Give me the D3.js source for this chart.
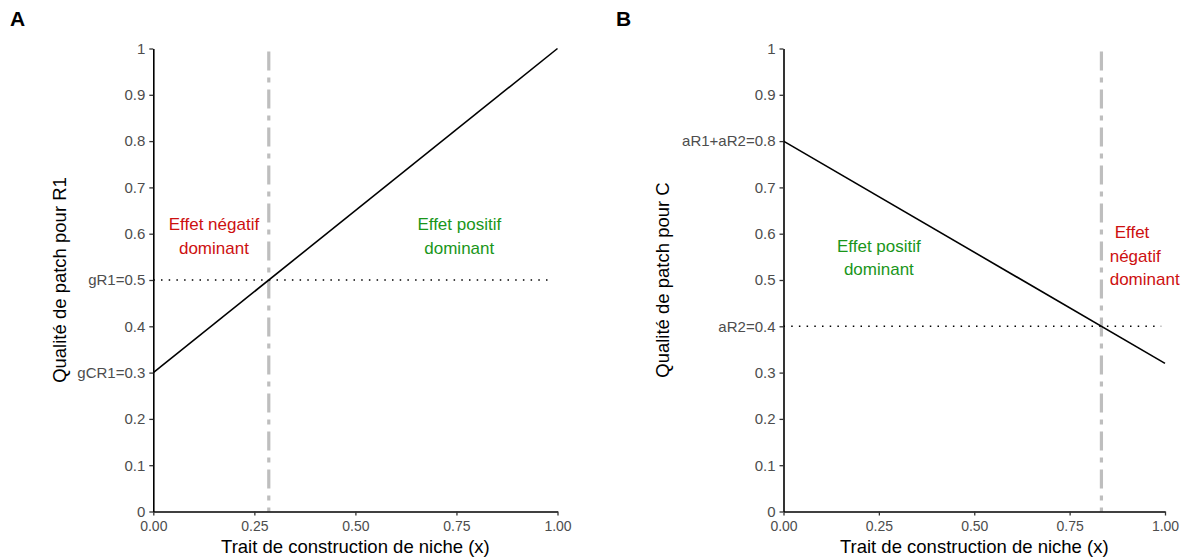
<!DOCTYPE html>
<html>
<head>
<meta charset="utf-8">
<script src="https://cdn.jsdelivr.net/npm/d3@7"></script>
<style>
  body { margin: 0; background: #ffffff; }
  svg text { font-family: "Liberation Sans", Arial, sans-serif; }
</style>
</head>
<body>
<svg id="mySvg" width="1189" height="559"></svg>
<script>
// values
var xTicks = [0, 0.25, 0.5, 0.75, 1];
var xTickLabels = ["0.00", "0.25", "0.50", "0.75", "1.00"];
var yTicks = [0, 0.1, 0.2, 0.3, 0.4, 0.5, 0.6, 0.7, 0.8, 0.9, 1];

// panel A
var lineAx = [0, 1];
var lineAy = [0.3, 1];
var hLineA = 0.5;
var vLineA = 2 / 7;
var yLabelsA = {0.3: "gCR1=0.3", 0.5: "gR1=0.5"};

// panel B
var lineBx = [0, 1];
var lineBy = [0.8, 0.32];
var hLineB = 0.4;
var vLineB = 5 / 6;
var yLabelsB = {0.8: "aR1+aR2=0.8", 0.4: "aR2=0.4"};

var svgWidth = 1189;
var svgHeight = 559;
var red = "#cd1010";
var green = "#1a961a";

var svg = d3.select("#mySvg");

function drawPanel(opt) {
    var xScale = d3.scaleLinear().domain([0, 1]).range([opt.left, opt.right]);
    var yScale = d3.scaleLinear().domain([0, 1]).range([511.5, 48.5]);

    var g = svg.append("g");

    // dash-dot vertical line
    g.append("line")
        .attr("x1", xScale(opt.vLine)).attr("x2", xScale(opt.vLine))
        .attr("y1", yScale(1) + 3).attr("y2", yScale(0))
        .attr("stroke", "#bebebe")
        .attr("stroke-width", 3.2)
        .attr("stroke-dasharray", "19,7,5,7");

    // dotted horizontal line
    g.append("line")
        .attr("x1", xScale(0)).attr("x2", xScale(0.99))
        .attr("y1", yScale(opt.hLine)).attr("y2", yScale(opt.hLine))
        .attr("stroke", "#000")
        .attr("stroke-width", 1.5)
        .attr("stroke-dasharray", "1.5,6.2");

    // main line
    var line = d3.line()
        .x(d => xScale(d[0]))
        .y(d => yScale(d[1]));
    g.append("path")
        .datum(d3.zip(opt.lx, opt.ly))
        .attr("d", line)
        .attr("fill", "none")
        .attr("stroke", "#000")
        .attr("stroke-width", 1.6);

    // axes
    var x_axis = d3.axisBottom(xScale)
        .tickValues(xTicks)
        .tickFormat((d, i) => xTickLabels[i])
        .tickSize(4)
        .tickSizeOuter(0);
    var y_axis = d3.axisLeft(yScale)
        .tickValues(yTicks)
        .tickFormat(d => opt.yLabels[d] || d3.format("")(d))
        .tickSize(4)
        .tickSizeOuter(0);

    var gx = g.append("g")
        .attr("transform", "translate(0," + yScale(0) + ")")
        .call(x_axis);
    var gy = g.append("g")
        .attr("transform", "translate(" + xScale(0) + ",0)")
        .call(y_axis);

    [gx, gy].forEach(function(a) {
        a.attr("font-family", "Liberation Sans, Arial, sans-serif");
        a.select(".domain").attr("stroke", "#000").attr("stroke-width", 1.6);
        a.selectAll(".tick line").attr("stroke", "#333").attr("stroke-width", 1.3);
        a.selectAll(".tick text").attr("fill", "#4d4d4d");
    });
    gx.attr("font-size", 14);
    gy.attr("font-size", 15);
    gx.selectAll(".tick text").attr("y", 10).attr("dy", "0.71em");
    gy.selectAll(".tick text").attr("x", -8);

    // axis titles
    g.append("text")
        .attr("x", (opt.left + opt.right) / 2)
        .attr("y", 553)
        .attr("text-anchor", "middle")
        .attr("font-size", 18.5)
        .attr("fill", "#000")
        .text("Trait de construction de niche (x)");

    g.append("text")
        .attr("transform", "translate(" + opt.yTitleX + "," + (yScale(0.5)) + ") rotate(-90)")
        .attr("text-anchor", "middle")
        .attr("font-size", 18.5)
        .attr("fill", "#000")
        .text(opt.yTitle);

    // panel letter
    g.append("text")
        .attr("x", opt.letterX)
        .attr("y", 26)
        .attr("font-size", 21)
        .attr("font-weight", "bold")
        .attr("fill", "#000")
        .text(opt.letter);

    // annotations
    opt.notes.forEach(function(n) {
        var t = g.append("text")
            .attr("text-anchor", n.anchor || "middle")
            .attr("font-size", 17)
            .attr("fill", n.color);
        n.lines.forEach(function(s, i) {
            t.append("tspan")
                .attr("x", xScale(n.x) + (n.dx ? n.dx[i] : 0))
                .attr("y", yScale(n.y) + i * n.step)
                .text(s);
        });
    });
}

drawPanel({
    left: 153.3, right: 557.5,
    lx: lineAx, ly: lineAy,
    hLine: hLineA, vLine: vLineA,
    yLabels: yLabelsA,
    yTitle: "Qualité de patch pour R1",
    yTitleX: 66,
    letter: "A", letterX: 10,
    notes: [
        {x: 0.15, y: 0.608, step: 24, lines: ["Effet négatif", "dominant"], color: red},
        {x: 0.757, y: 0.608, step: 24, lines: ["Effet positif", "dominant"], color: green}
    ]
});

drawPanel({
    left: 783.5, right: 1165,
    lx: lineBx, ly: lineBy,
    hLine: hLineB, vLine: vLineB,
    yLabels: yLabelsB,
    yTitle: "Qualité de patch pour C",
    yTitleX: 669,
    letter: "B", letterX: 616,
    notes: [
        {x: 0.25, y: 0.5605, step: 23, lines: ["Effet positif", "dominant"], color: green},
        {x: 0.855, y: 0.5907, step: 23.5, anchor: "start", dx: [5, 0, 0],
         lines: ["Effet", "négatif", "dominant"], color: red}
    ]
});
</script>
</body>
</html>
